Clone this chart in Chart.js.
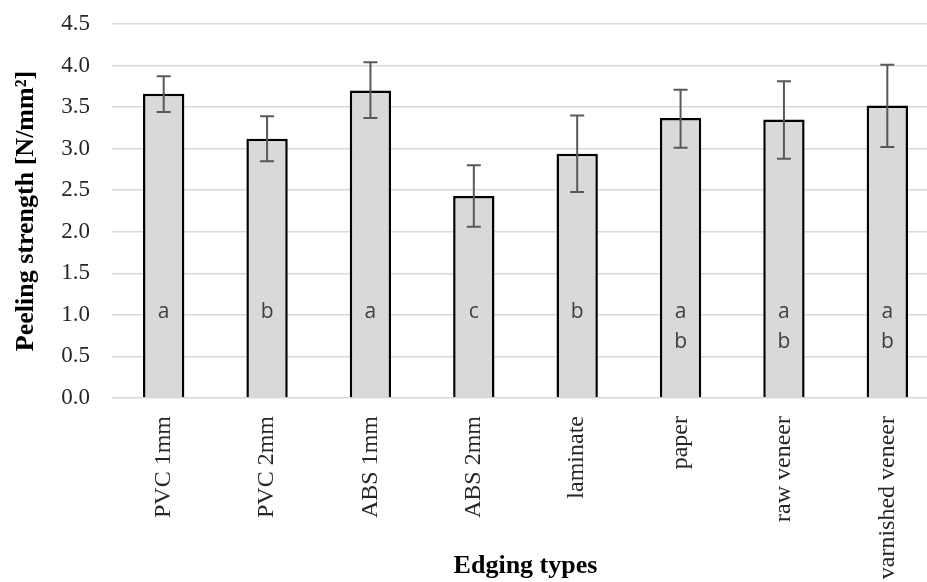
<!DOCTYPE html>
<html>
<head>
<meta charset="utf-8">
<script src="https://cdn.jsdelivr.net/npm/chart.js@4"></script>
<style>
  html, body { margin: 0; padding: 0; background: #fff; overflow: hidden; }
  #wrap { width: 927px; height: 582px; overflow: hidden; }
</style>
</head>
<body>
<div id="wrap"><canvas id="chart" width="940" height="582"></canvas></div>
<script>
const categories = ['PVC 1mm', 'PVC 2mm', 'ABS 1mm', 'ABS 2mm', 'laminate', 'paper', 'raw veneer', 'varnished veneer'];
const strength = [3.66, 3.12, 3.70, 2.43, 2.94, 3.37, 3.35, 3.52];
const errHigh = [3.87, 3.39, 4.04, 2.80, 3.40, 3.71, 3.81, 4.01];
const errLow = [3.44, 2.85, 3.37, 2.06, 2.48, 3.01, 2.88, 3.02];
const groupTop = ['a', 'b', 'a', 'c', 'b', 'a', 'a', 'a'];
const groupBottom = ['', '', '', '', '', 'b', 'b', 'b'];
const yTicks = [0, 0.5, 1.0, 1.5, 2.0, 2.5, 3.0, 3.5, 4.0, 4.5];

const serif = '"Liberation Serif", "Times New Roman", serif';

// error bars + significance letters
const extras = {
    id: 'extras',
    afterDatasetsDraw(chart) {
        const ctx = chart.ctx;
        const x = chart.scales.x;
        const y = chart.scales.y;
        ctx.save();
        ctx.strokeStyle = '#595959';
        ctx.lineWidth = 2;
        categories.forEach((c, i) => {
            const px = x.getPixelForValue(i);
            const top = y.getPixelForValue(errHigh[i]);
            const bot = y.getPixelForValue(errLow[i]);
            ctx.beginPath();
            ctx.moveTo(px, top); ctx.lineTo(px, bot);
            ctx.moveTo(px - 7, top); ctx.lineTo(px + 7, top);
            ctx.moveTo(px - 7, bot); ctx.lineTo(px + 7, bot);
            ctx.stroke();
        });
        ctx.fillStyle = '#404040';
        ctx.font = '21px "Open Sans", sans-serif';
        ctx.textAlign = 'center';
        ctx.textBaseline = 'middle';
        const ly = y.getPixelForValue(1.0) - 3;
        categories.forEach((c, i) => {
            const px = x.getPixelForValue(i);
            ctx.fillText(groupTop[i], px, ly);
            if (groupBottom[i]) ctx.fillText(groupBottom[i], px, ly + 30);
        });
        ctx.restore();
    }
};

new Chart(document.getElementById('chart'), {
    type: 'bar',
    data: {
        labels: categories,
        datasets: [{
            data: strength,
            backgroundColor: '#d9d9d9',
            borderColor: '#000000',
            borderWidth: 2.5,
            borderSkipped: 'bottom',
            barPercentage: 0.4,
            categoryPercentage: 1.0
        }]
    },
    options: {
        responsive: false,
        animation: false,
        layout: { padding: { top: 24, right: 1, left: 0, bottom: 0 } },
        plugins: { legend: { display: false }, tooltip: { enabled: false } },
        scales: {
            y: {
                min: 0,
                max: 4.5,
                afterBuildTicks(scale) { scale.ticks = yTicks.map(v => ({ value: v })); },
                afterFit(scale) {
                    scale.width = 112;
                    scale.paddingTop = 0;
                    scale.paddingBottom = 0;
                },
                border: { display: false },
                grid: { color: '#d9d9d9', lineWidth: 1.5, drawTicks: false },
                ticks: {
                    padding: 22,
                    color: '#262626',
                    font: { family: serif, size: 23 },
                    callback: v => Number(v).toFixed(1)
                },
                title: {
                    display: true,
                    text: 'Peeling strength [N/mm²]',
                    color: '#000',
                    font: { family: serif, size: 26, weight: 'bold' },
                    padding: { top: 11, bottom: 0 }
                }
            },
            x: {
                afterFit(scale) { scale.height = 184; },
                border: { display: false },
                grid: { display: false },
                ticks: {
                    minRotation: 90,
                    maxRotation: 90,
                    padding: 10,
                    color: '#262626',
                    font: { family: serif, size: 24 }
                },
                title: {
                    display: true,
                    text: 'Edging types',
                    color: '#000',
                    font: { family: serif, size: 26, weight: 'bold' },
                    padding: { top: 0, bottom: 0 }
                }
            }
        }
    },
    plugins: [extras]
});
</script>
</body>
</html>
